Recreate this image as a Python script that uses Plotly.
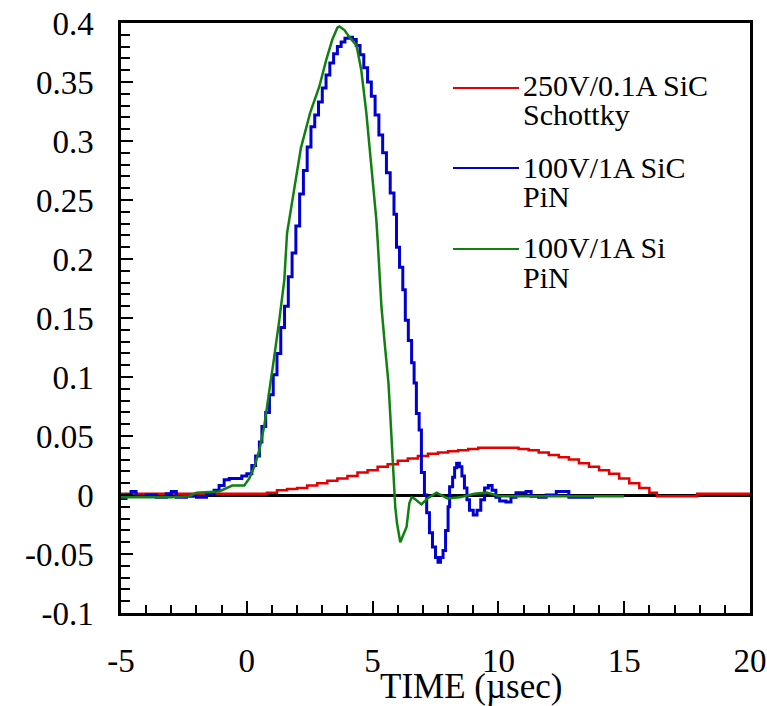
import plotly.graph_objects as go

# ---------------- data ----------------
# 250V/0.1A SiC Schottky (staircase)
red_t = [-5.0, -4.0, -3.0, -2.0, -1.0, 0.0, 0.8, 1.2, 1.6, 2.0, 2.4, 2.8, 3.2, 3.6, 4.0,
         4.4, 4.8, 5.2, 5.6, 6.0, 6.4, 6.8, 7.2, 7.6, 8.0, 8.4, 8.8, 9.2, 9.6, 10.0,
         10.4, 10.8, 11.2, 11.6, 12.0, 12.4, 12.8, 13.2, 13.6, 14.0, 14.4, 14.8, 15.2,
         15.6, 16.0, 16.3, 17.9, 20.0]
red_v = [0.001, 0.001, 0.001, 0.001, 0.001, 0.001, 0.002, 0.004, 0.005, 0.006, 0.008, 0.010,
         0.012, 0.014, 0.016, 0.019, 0.021, 0.024, 0.026, 0.029, 0.031, 0.033, 0.035, 0.036,
         0.037, 0.038, 0.039, 0.040, 0.040, 0.040, 0.040, 0.039, 0.038, 0.036, 0.034, 0.032,
         0.030, 0.027, 0.024, 0.021, 0.018, 0.014, 0.010, 0.006, 0.002, -0.001, 0.001, 0.001]

# 100V/1A SiC PiN (staircase)
blue_t = [-5.0, -4.8, -4.6, -4.4, -4.0, -3.6, -3.2, -3.0, -2.8, -2.4, -2.0, -1.6, -1.3, -1.1,
          -0.9, -0.7, -0.4, -0.2, 0.0, 0.2, 0.35, 0.5, 0.6, 0.75, 0.9, 1.05, 1.2, 1.35, 1.5,
          1.65, 1.8, 1.95, 2.1, 2.25, 2.4, 2.55, 2.7, 2.85, 3.0, 3.15, 3.3, 3.45, 3.6, 3.75,
          3.9, 4.05, 4.2, 4.35, 4.5, 4.65, 4.8, 4.95, 5.1, 5.25, 5.4, 5.55, 5.7, 5.85, 5.95,
          6.07, 6.2, 6.3, 6.42, 6.55, 6.65, 6.74, 6.85, 6.94, 7.06, 7.15, 7.26, 7.38, 7.5,
          7.6, 7.7, 7.8, 7.9, 8.0, 8.06, 8.18, 8.26, 8.34, 8.45, 8.55, 8.65, 8.75, 8.85, 9.0,
          9.15, 9.3, 9.45, 9.6, 9.75, 9.9, 10.05, 10.3, 10.5, 10.7, 11.1, 11.3, 11.6, 11.9,
          12.3, 12.8, 13.2, 13.8]
blue_v = [-0.003, 0.0, 0.003, -0.001, 0.0, -0.002, 0.001, 0.003, -0.002, -0.001, -0.002, 0.001,
          0.004, 0.008, 0.013, 0.014, 0.014, 0.016, 0.018, 0.025, 0.033, 0.045, 0.058, 0.070,
          0.085, 0.102, 0.120, 0.142, 0.160, 0.185, 0.205, 0.228, 0.255, 0.275, 0.295, 0.312,
          0.322, 0.333, 0.345, 0.356, 0.366, 0.374, 0.380, 0.384, 0.387, 0.388, 0.386, 0.381,
          0.373, 0.362, 0.350, 0.338, 0.322, 0.305, 0.290, 0.273, 0.256, 0.238, 0.210, 0.193,
          0.174, 0.148, 0.131, 0.112, 0.095, 0.069, 0.055, 0.019, 0.0, -0.015, -0.032, -0.044,
          -0.053, -0.057, -0.053, -0.047, -0.030, -0.010, 0.007, 0.015, 0.023, 0.027, 0.024,
          0.016, 0.006, -0.004, -0.013, -0.017, -0.013, -0.004, 0.006, 0.008, 0.004, -0.002,
          -0.005, -0.006, -0.002, 0.002, 0.003, -0.001, -0.002, 0.0, 0.003, -0.002, -0.002,
          -0.002]

# 100V/1A Si PiN (smooth)
green_t = [-5.0, -3.0, -2.3, -2.0, -1.1, -0.58, -0.1, 0.1, 0.3, 0.5, 0.69, 0.89, 1.09, 1.29,
           1.49, 1.6, 2.15, 2.52, 2.88, 3.16, 3.4, 3.6, 3.68, 3.88, 4.08, 4.36, 4.55, 4.75,
           4.95, 5.15, 5.2, 5.35, 5.47, 5.63, 5.7, 5.75, 5.83, 5.9, 5.97, 6.1, 6.35, 6.46,
           6.55, 6.66, 6.94, 7.18, 7.54, 7.98, 8.46, 9.05, 9.53, 10.05, 15.0]
green_v = [-0.002, -0.002, -0.001, 0.002, 0.003, 0.008, 0.008, 0.014, 0.024, 0.038, 0.058,
           0.086, 0.117, 0.148, 0.182, 0.222, 0.294, 0.324, 0.346, 0.369, 0.386, 0.396, 0.397,
           0.394, 0.388, 0.381, 0.360, 0.324, 0.281, 0.233, 0.216, 0.160, 0.131, 0.095, 0.069,
           0.047, 0.019, -0.010, -0.024, -0.040, -0.027, -0.007, -0.002, -0.003, -0.008,
           -0.003, 0.002, -0.003, -0.002, 0.001, 0.002, -0.001, -0.001]

series_names = [["250V/0.1A SiC", "Schottky"], ["100V/1A SiC", "PiN"], ["100V/1A Si", "PiN"]]
series_colors = ["rgb(226,0,0)", "rgb(0,0,210)", "rgb(16,128,16)"]

y_ticks = [-0.1, -0.05, 0, 0.05, 0.1, 0.15, 0.2, 0.25, 0.3, 0.35, 0.4]
y_ticktext = ["-0.1", "-0.05", "0", "0.05", "0.1", "0.15", "0.2", "0.25", "0.3", "0.35", "0.4"]
x_ticks = [-5, 0, 5, 10, 15, 20]
x_ticktext = ["-5", "0", "5", "10", "15", "20"]

FONT = "Liberation Serif, Times New Roman, Times, serif"

fig = go.Figure()
fig.add_trace(go.Scatter(x=red_t, y=red_v, mode="lines", line=dict(color=series_colors[0], width=2.5, shape="hv"),
                         name=" ".join(series_names[0]), showlegend=False))
fig.add_trace(go.Scatter(x=blue_t, y=blue_v, mode="lines", line=dict(color=series_colors[1], width=3, shape="hv"),
                         name=" ".join(series_names[1]), showlegend=False))
fig.add_trace(go.Scatter(x=green_t, y=green_v, mode="lines", line=dict(color=series_colors[2], width=2.5),
                         name=" ".join(series_names[2]), showlegend=False))

# manual legend (paper coordinates)
W, H = 767, 706
L, R, T, B = 121, 17, 23, 93
pw, ph = W - L - R, H - T - B
def px(x):
    return (x - L) / pw
def py(y):
    return (H - B - y) / ph

leg_line_y = [88, 168, 249]
leg_text_y = [[86, 115], [167, 196], [247, 277]]
shapes = []
annotations = []
for i in range(3):
    shapes.append(dict(type="line", xref="paper", yref="paper", x0=px(453), x1=px(519),
                       y0=py(leg_line_y[i]), y1=py(leg_line_y[i]),
                       line=dict(color=series_colors[i], width=2)))
    for j in range(2):
        annotations.append(dict(xref="paper", yref="paper", x=px(521), y=py(leg_text_y[i][j]),
                                xanchor="left", yanchor="middle", showarrow=False,
                                text=series_names[i][j], font=dict(family=FONT, size=30, color="black")))

annotations.append(dict(xref="paper", yref="paper", x=px(471), y=py(686), xanchor="center",
                        yanchor="middle", showarrow=False, text="TIME (µsec)",
                        font=dict(family=FONT, size=35, color="black")))

fig.update_layout(
    width=W, height=H,
    margin=dict(l=L, r=R, t=T, b=B, autoexpand=False),
    paper_bgcolor="white", plot_bgcolor="white",
    showlegend=False,
    shapes=shapes, annotations=annotations,
    font=dict(family=FONT, color="black"),
)
fig.update_xaxes(range=[-5, 20], showgrid=False, zeroline=False, automargin=False,
                 showline=True, linecolor="black", linewidth=2.5, mirror=True,
                 ticks="inside", ticklen=12, tickwidth=2, tickcolor="black",
                 tickvals=x_ticks, ticktext=x_ticktext, ticklabelstandoff=17,
                 tickfont=dict(family=FONT, size=33, color="black"),
                 minor=dict(dtick=1, ticks="inside", ticklen=8, tickwidth=2, tickcolor="black"))
fig.update_yaxes(range=[-0.1, 0.4], showgrid=False, zeroline=True, zerolinecolor="black", zerolinewidth=2.5,
                 automargin=False,
                 showline=True, linecolor="black", linewidth=2.5, mirror=True,
                 ticks="inside", ticklen=12, tickwidth=2, tickcolor="black",
                 tickvals=y_ticks, ticktext=y_ticktext, ticklabelstandoff=18,
                 tickfont=dict(family=FONT, size=33, color="black"),
                 minor=dict(dtick=0.01, ticks="inside", ticklen=9, tickwidth=2, tickcolor="black"))

fig.write_html("out.html")
